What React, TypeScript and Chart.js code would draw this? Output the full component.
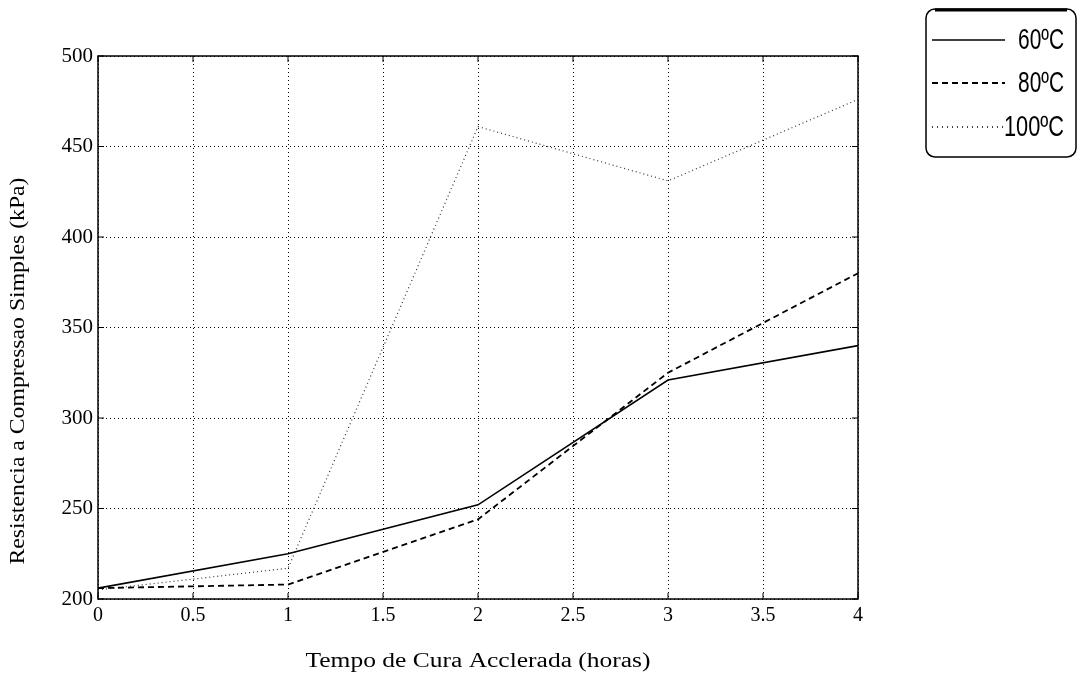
import React, { useEffect, useRef } from "react";
import { Chart, registerables } from "chart.js";

Chart.register(...registerables);

const hours = [0, 1, 2, 3, 4];
const series60 = [206, 225, 252, 321, 340];
const series80 = [206, 208, 244, 325, 380];
const series100 = [205, 217, 461, 431, 476];
const legendLabels = ["60ºC", "80ºC", "100ºC"];
const xTicks = [0, 0.5, 1, 1.5, 2, 2.5, 3, 3.5, 4];
const yTicks = [200, 250, 300, 350, 400, 450, 500];
const xTitle = "Tempo de Cura Acclerada (horas)";
const yTitle = "Resistencia a Compressao Simples (kPa)";

const SERIF = "'Liberation Serif', 'Times New Roman', serif";

function fitText(ctx: any, text: string, cx: number, cy: number, targetW: number, font: string, rot = 0) {
  ctx.save();
  ctx.font = font;
  ctx.fillStyle = "#000";
  ctx.textAlign = "center";
  ctx.textBaseline = "middle";
  const m = ctx.measureText(text).width;
  ctx.translate(cx, cy);
  if (rot) ctx.rotate(rot);
  ctx.scale(targetW / m, 1);
  ctx.fillText(text, 0, 0);
  ctx.restore();
}

const framePlugin = {
  id: "frame",
  afterDraw(chart: any) {
    const { ctx, chartArea: a } = chart;
    const xs = chart.scales.x;
    const ys = chart.scales.y;
    ctx.save();
    ctx.strokeStyle = "#000";
    ctx.lineWidth = 1.5;
    ctx.setLineDash([]);
    ctx.strokeRect(a.left, a.top, a.right - a.left, a.bottom - a.top);
    ctx.lineWidth = 1;
    xTicks.forEach((v) => {
      const px = xs.getPixelForValue(v);
      ctx.beginPath();
      ctx.moveTo(px, a.bottom);
      ctx.lineTo(px, a.bottom - 6);
      ctx.moveTo(px, a.top);
      ctx.lineTo(px, a.top + 6);
      ctx.stroke();
    });
    yTicks.forEach((v) => {
      const py = ys.getPixelForValue(v);
      ctx.beginPath();
      ctx.moveTo(a.left, py);
      ctx.lineTo(a.left + 6, py);
      ctx.moveTo(a.right, py);
      ctx.lineTo(a.right - 6, py);
      ctx.stroke();
    });

    // axis titles
    fitText(ctx, xTitle, (a.left + a.right) / 2, 662, 345, `20px ${SERIF}`);
    fitText(ctx, yTitle, 19, 371, 387, `20px ${SERIF}`, -Math.PI / 2);

    // legend
    const bx = 926, by = 9, bw = 150, bh = 148, r = 9;
    ctx.lineWidth = 1.5;
    ctx.beginPath();
    ctx.moveTo(bx + r, by);
    ctx.lineTo(bx + bw - r, by);
    ctx.arcTo(bx + bw, by, bx + bw, by + r, r);
    ctx.lineTo(bx + bw, by + bh - r);
    ctx.arcTo(bx + bw, by + bh, bx + bw - r, by + bh, r);
    ctx.lineTo(bx + r, by + bh);
    ctx.arcTo(bx, by + bh, bx, by + bh - r, r);
    ctx.lineTo(bx, by + r);
    ctx.arcTo(bx, by, bx + r, by, r);
    ctx.closePath();
    ctx.fillStyle = "#fff";
    ctx.fill();
    ctx.stroke();
    ctx.lineWidth = 3;
    ctx.beginPath();
    ctx.moveTo(bx + r, by + 1);
    ctx.lineTo(bx + bw - r, by + 1);
    ctx.stroke();

    const rowsY = [40, 83, 127];
    const dashes = [[], [6, 4], [1, 4]];
    const widths = [1.5, 2, 1.5];
    const targetW = [46, 46, 60];
    rowsY.forEach((y, i) => {
      ctx.lineWidth = widths[i];
      ctx.setLineDash(dashes[i]);
      ctx.strokeStyle = "#000";
      ctx.beginPath();
      ctx.moveTo(932, y);
      ctx.lineTo(1005, y);
      ctx.stroke();
      ctx.setLineDash([]);
      fitText(ctx, legendLabels[i], 1064 - targetW[i] / 2, y + 1, targetW[i], "29px 'Liberation Sans', Arial, sans-serif");
    });
    ctx.restore();
  },
};

export default function App() {
  const ref = useRef<HTMLCanvasElement>(null);
  useEffect(() => {
    if (!ref.current) return;
    const toPts = (ys: number[]) => hours.map((h, i) => ({ x: h, y: ys[i] }));
    const chart = new Chart(ref.current, {
      type: "line",
      data: {
        datasets: [
          { label: legendLabels[0], data: toPts(series60), borderColor: "#000", borderWidth: 1.6, pointRadius: 0, tension: 0 },
          { label: legendLabels[1], data: toPts(series80), borderColor: "#000", borderWidth: 1.8, borderDash: [6, 4], pointRadius: 0, tension: 0 },
          { label: legendLabels[2], data: toPts(series100), borderColor: "#333", borderWidth: 1.2, borderDash: [1, 3], pointRadius: 0, tension: 0 },
        ],
      },
      options: {
        animation: false,
        responsive: false,
        layout: { padding: { left: 0, right: 221, top: 56, bottom: 0 } },
        plugins: { legend: { display: false }, tooltip: { enabled: false } },
        scales: {
          x: {
            type: "linear",
            min: 0,
            max: 4,
            afterFit: (s: any) => { s.height = 78; },
            afterBuildTicks: (s: any) => { s.ticks = xTicks.map((v) => ({ value: v })); },
            grid: { color: "#000", lineWidth: 1, drawTicks: false },
            border: { display: false, dash: [1, 3] },
            ticks: { color: "#000", padding: 5, font: { family: SERIF, size: 20 }, callback: (v: any) => String(v) },
            title: { display: false },
          },
          y: {
            type: "linear",
            min: 200,
            max: 500,
            afterFit: (s: any) => { s.width = 98; },
            afterBuildTicks: (s: any) => { s.ticks = yTicks.map((v) => ({ value: v })); },
            grid: { color: "#000", lineWidth: 1, drawTicks: false },
            border: { display: false, dash: [1, 3] },
            ticks: { color: "#000", padding: 5, font: { family: SERIF, size: 21 }, callback: (v: any) => String(v) },
            title: { display: false },
          },
        },
      },
      plugins: [framePlugin],
    } as any);
    return () => chart.destroy();
  }, []);
  return (
    <div style={{ position: "fixed", left: 0, top: 0, width: 1079, height: 677, background: "#fff" }}>
      <canvas ref={ref} width={1079} height={677} style={{ display: "block" }} />
    </div>
  );
}
